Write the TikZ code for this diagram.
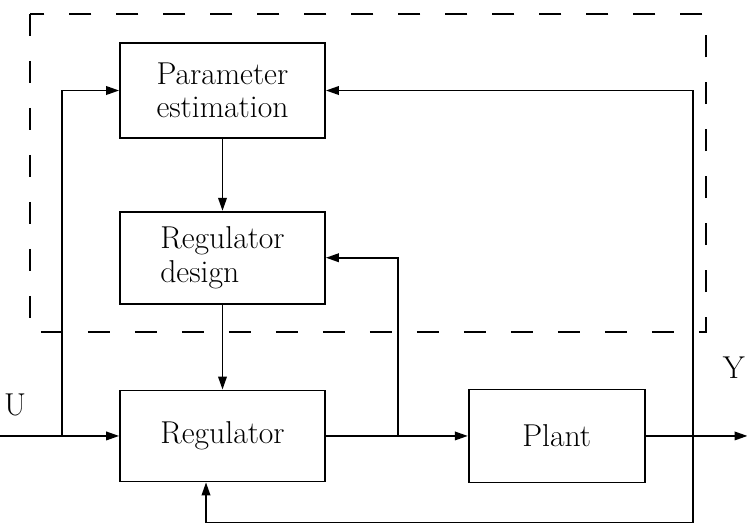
\documentclass[tikz,border=0pt]{standalone}
\usetikzlibrary{positioning,arrows.meta}

\begin{document}
\begin{tikzpicture}[x=0.02cm,y=-0.02cm,
      >={Triangle[length=2.6mm,width=1.7mm]},
      blk/.style={draw,line width=1pt,minimum width=4.1cm,align=left,
                  font=\fontsize{18}{19}\selectfont},
      arrow/.style={->,line width=1.1pt},
      lbl/.style={font=\fontsize{18}{19}\selectfont},
      frame/.style={dash pattern=on 0.44cm off 0.5cm,line width=1.1pt}]
    \useasboundingbox (0,0) rectangle (747,522);
    \draw[frame] (30,14) rectangle (706,332);
    \node[blk,minimum height=1.9cm] (pe) at (222.5,90.5) {Parameter\\estimation};
    \node[blk,minimum height=1.84cm,below=1.44cm of pe] (rd) {Regulator\\design};
    \node[blk,minimum height=1.82cm,below=1.7cm of rd] (reg) {Regulator};
    \node[blk,minimum width=3.52cm,minimum height=1.86cm,right=2.84cm of reg] (plant) {Plant};
    \coordinate[left=2.4cm of reg.west] (in);
    \coordinate (j1) at ([xshift=-1.14cm]reg.west);
    \coordinate (j2) at ([xshift=1.44cm]reg.east);
    \coordinate (j3) at ([xshift=0.94cm]plant.east);
    \coordinate[right=2.04cm of plant.east] (out);
    \coordinate (fb) at ([xshift=-0.33cm,yshift=-0.82cm]reg.south);
    \node[lbl] (u) at (15,405) {U};
    \node[lbl,anchor=east,inner sep=1pt] (y) at (747,368) {Y};
    \draw[arrow] (in) -- (reg);
    \draw[arrow] (j1) |- (pe);
    \draw[arrow] (pe) -- (rd);
    \draw[arrow] (rd) -- (reg);
    \draw[arrow] (reg) -- (plant);
    \draw[arrow] (j2) |- (rd);
    \draw[arrow] (plant) -- (out);
    \draw[arrow] (j3) |- (pe);
    \draw[arrow] (j3) |- (fb) -- ([xshift=-0.33cm]reg.south);
  \end{tikzpicture}
\end{document}
